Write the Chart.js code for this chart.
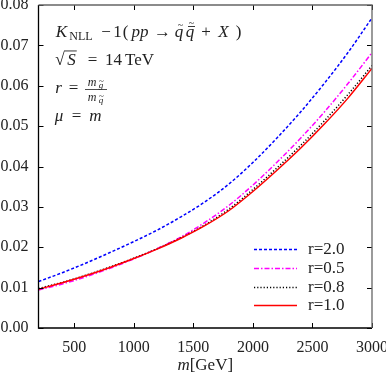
<!DOCTYPE html>
<html>
<head>
<meta charset="utf-8">
<script src="https://cdn.jsdelivr.net/npm/chart.js@4.4.0/dist/chart.umd.min.js"></script>
<style>
html, body { margin:0; padding:0; background:#fff; }
#wrap { width:386px; height:376px; }
</style>
</head>
<body>
<div id="wrap"><canvas id="grafico" width="386" height="376"></canvas></div>
<script>
// Datos
const masas = [200, 400, 600, 800, 1000, 1200, 1400, 1600, 1800, 2000, 2200, 2400, 2600, 2800, 3000];
const etiquetas = ['r=2.0', 'r=0.5', 'r=0.8', 'r=1.0'];
const serieR20 = [0.0115, 0.0137, 0.0161, 0.0187, 0.0214, 0.0243, 0.0276, 0.0313, 0.0357, 0.0410, 0.0470, 0.0535, 0.0606, 0.0683, 0.0768];
const serieR05 = [0.0094, 0.0109, 0.0127, 0.0148, 0.0171, 0.0197, 0.0226, 0.0262, 0.0304, 0.0354, 0.0410, 0.0470, 0.0535, 0.0606, 0.0682];
const serieR08 = [0.0098, 0.0113, 0.0131, 0.0151, 0.0173, 0.0197, 0.0224, 0.0256, 0.0295, 0.0343, 0.0396, 0.0452, 0.0513, 0.0579, 0.0650];
const serieR10 = [0.0096, 0.0112, 0.0130, 0.0150, 0.0172, 0.0196, 0.0223, 0.0254, 0.0291, 0.0338, 0.0390, 0.0445, 0.0505, 0.0570, 0.0643];
const ticksX = [500, 1000, 1500, 2000, 2500, 3000];
const ticksY = [0, 0.01, 0.02, 0.03, 0.04, 0.05, 0.06, 0.07, 0.08];

const SERIF = "'Liberation Serif', 'DejaVu Serif', serif";
const puntos = serie => masas.map((m, i) => ({ x: m, y: serie[i] }));

// Ticks hacia adentro y marco
const marco = {
  id: 'marco',
  afterDraw(chart) {
    const { ctx, chartArea: a, scales } = chart;
    ctx.save();
    ctx.lineWidth = 1;
    ctx.strokeStyle = '#000';
    ticksX.forEach(v => {
      const px = Math.round(scales.x.getPixelForValue(v)) + 0.5;
      ctx.beginPath();
      ctx.moveTo(px, a.bottom); ctx.lineTo(px, a.bottom - 5);
      ctx.moveTo(px, a.top); ctx.lineTo(px, a.top + 5);
      ctx.stroke();
    });
    ticksY.forEach(v => {
      const py = Math.round(scales.y.getPixelForValue(v)) + 0.5;
      ctx.beginPath();
      ctx.moveTo(a.left, py); ctx.lineTo(a.left + 5, py);
      ctx.moveTo(a.right, py); ctx.lineTo(a.right - 5, py);
      ctx.stroke();
    });
    ctx.lineWidth = 1.3;
    ctx.beginPath();
    ctx.moveTo(a.left, a.top); ctx.lineTo(a.left, a.bottom); ctx.lineTo(a.right, a.bottom);
    ctx.stroke();
    ctx.strokeStyle = '#666';
    ctx.beginPath();
    ctx.moveTo(a.left, a.top); ctx.lineTo(a.right, a.top); ctx.lineTo(a.right, a.bottom);
    ctx.stroke();
    ctx.restore();
  }
};

// Escribe un trozo centrado en cx; acentos opcionales encima
function trozo(ctx, t, f, cx, y, marcas) {
  ctx.font = f;
  ctx.textAlign = 'center';
  ctx.fillText(t, cx, y);
  const w = ctx.measureText(t).width;
  if (marcas) {
    const mx = cx + (marcas.dx || 1.5);
    let top = y - (marcas.alto || 11);
    if (marcas.barra) { ctx.fillRect(mx - 3.5, top, 7, 0.9); top -= 2; }
    if (marcas.tilde) {
      ctx.font = (marcas.tam || 10) + 'px ' + SERIF;
      ctx.fillText('~', mx, top + 2);
    }
  }
  ctx.textAlign = 'left';
  return cx + w / 2;
}

const textos = {
  id: 'textos',
  afterDraw(chart) {
    const { ctx, chartArea: a } = chart;
    const N = '17px ' + SERIF, I = 'italic 17px ' + SERIF;
    ctx.save();
    ctx.fillStyle = '#222';
    ctx.textBaseline = 'alphabetic';
    // linea 1
    trozo(ctx, 'K', I, 61.5, 37);
    trozo(ctx, 'NLL', '12px ' + SERIF, 81, 40);
    trozo(ctx, '−', N, 106, 37);
    trozo(ctx, '1', N, 117.5, 37);
    trozo(ctx, '(', N, 125.5, 37);
    trozo(ctx, 'pp', I, 140, 37);
    trozo(ctx, '→', N, 162.5, 37);
    trozo(ctx, 'q', I, 179, 37, { tilde: true });
    trozo(ctx, 'q', I, 190, 37, { tilde: true, barra: true });
    trozo(ctx, '+', N, 206, 37);
    trozo(ctx, 'X', I, 223.5, 37);
    trozo(ctx, ')', N, 238.5, 37);
    // linea 2
    trozo(ctx, '√', N, 60, 65);
    const xs = trozo(ctx, 'S', I, 71.5, 65);
    ctx.fillRect(64, 50.5, xs - 63, 0.9);
    trozo(ctx, '=', N, 92.5, 65);
    trozo(ctx, '14', N, 113.5, 65);
    trozo(ctx, 'TeV', N, 139.5, 65);
    // linea 3
    trozo(ctx, 'r', I, 58.5, 93);
    trozo(ctx, '=', N, 73.5, 93);
    trozo(ctx, 'm', 'italic 12px ' + SERIF, 92, 86);
    trozo(ctx, 'g', 'italic 9px ' + SERIF, 101, 88, { tilde: true, tam: 9, alto: 6, dx: 0.5 });
    ctx.fillRect(85, 89, 22, 0.8);
    trozo(ctx, 'm', 'italic 12px ' + SERIF, 92, 101);
    trozo(ctx, 'q', 'italic 9px ' + SERIF, 101, 103, { tilde: true, tam: 9, alto: 6, dx: 0.5 });
    // linea 4
    trozo(ctx, 'μ', I, 59, 121);
    trozo(ctx, '=', N, 76.5, 121);
    trozo(ctx, 'm', I, 95.5, 121);
    // titulo eje x
    ctx.textBaseline = 'middle';
    ctx.font = I; const wm = ctx.measureText('m').width;
    ctx.font = N; const wr = ctx.measureText('[GeV]').width;
    const x0 = (a.left + a.right) / 2 - (wm + wr) / 2;
    trozo(ctx, 'm', I, x0 + wm / 2, 366);
    trozo(ctx, '[GeV]', N, x0 + wm + wr / 2, 366);
    // leyenda
    chart.data.datasets.forEach((ds, i) => {
      const y = Math.round(249 + i * 18.8) + 0.5;
      ctx.strokeStyle = ds.borderColor;
      ctx.lineWidth = ds.borderWidth;
      ctx.setLineDash(ds.borderDash || []);
      ctx.beginPath(); ctx.moveTo(254, y); ctx.lineTo(297, y); ctx.stroke();
      ctx.setLineDash([]);
      ctx.font = '17px ' + SERIF;
      ctx.fillText(ds.label, 308, y);
    });
    ctx.restore();
  }
};

const colores = ['#0000ff', '#ff00ff', '#000000', '#ff0000'];
const trazos = [[3, 2], [5, 2, 1.5, 2], [1.2, 2], []];
const series = [serieR20, serieR05, serieR08, serieR10];

const sinRelleno = s => { s.paddingTop = 0; s.paddingBottom = 0; s.paddingLeft = 0; s.paddingRight = 0; };

new Chart(document.getElementById('grafico'), {
  type: 'line',
  data: {
    datasets: series.map((s, i) => ({
      label: etiquetas[i],
      data: puntos(s),
      borderColor: colores[i],
      borderDash: trazos[i],
      borderWidth: 1.5,
      pointRadius: 0,
      cubicInterpolationMode: 'monotone',
      order: 3 - i
    }))
  },
  options: {
    responsive: false,
    animation: false,
    layout: { padding: { top: 5, right: 14, left: 0, bottom: 0 } },
    plugins: { legend: { display: false }, tooltip: { enabled: false } },
    scales: {
      x: {
        type: 'linear', min: 200, max: 3000,
        afterBuildTicks: s => { s.ticks = ticksX.map(v => ({ value: v })); },
        afterFit: s => { s.height = 48; sinRelleno(s); },
        grid: { display: false, drawTicks: false },
        border: { display: false },
        ticks: { color: '#222', font: { family: SERIF, size: 16 }, padding: 10, maxRotation: 0, callback: v => String(v) }
      },
      y: {
        min: 0, max: 0.08,
        afterBuildTicks: s => { s.ticks = ticksY.map(v => ({ value: v })); },
        afterFit: s => { s.width = 38.5; sinRelleno(s); },
        grid: { display: false, drawTicks: false },
        border: { display: false },
        ticks: { color: '#222', font: { family: SERIF, size: 16 }, padding: 10, callback: v => v.toFixed(2) }
      }
    }
  },
  plugins: [marco, textos]
});
</script>
</body>
</html>
